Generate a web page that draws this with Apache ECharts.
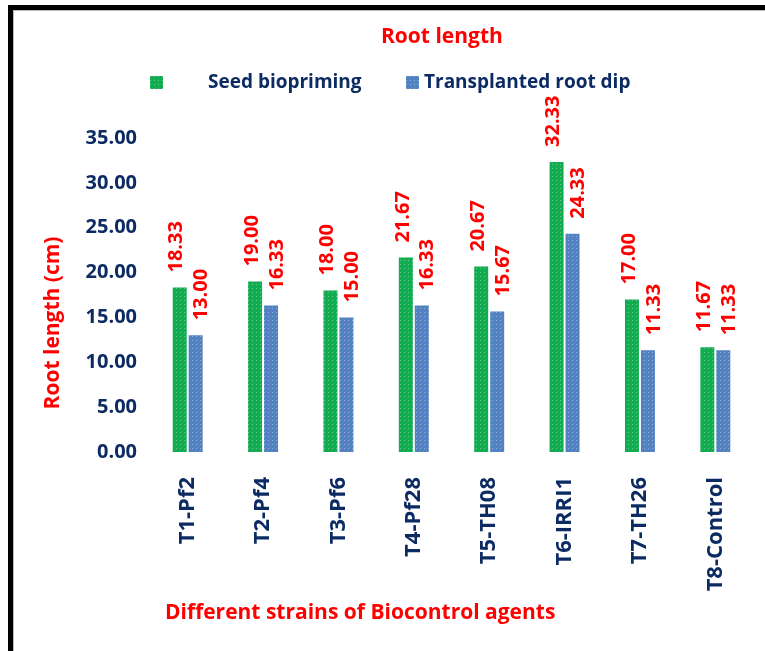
<!DOCTYPE html>
<html>
<head>
<meta charset="utf-8">
<script src="https://cdn.jsdelivr.net/npm/echarts@6/dist/echarts.min.js"></script>
<style>
html,body{margin:0;padding:0;background:#fff;}
#chart{position:absolute;left:0;top:0;width:765px;height:651px;}
#frame{position:absolute;left:8px;top:5px;width:800px;height:700px;border-left:5px solid #000;border-top:5px solid #000;pointer-events:none;box-sizing:border-box;}
#frame2{position:absolute;left:13px;top:10px;width:800px;height:700px;border-left:1px solid #bbb;border-top:1px solid #bbb;pointer-events:none;}
</style>
</head>
<body>
<div id="chart"></div>
<div id="frame"></div>
<div id="frame2"></div>
<script>
const categories = ['T1-Pf2','T2-Pf4','T3-Pf6','T4-Pf28','T5-TH08','T6-IRRI1','T7-TH26','T8-Control'];
const seedBiopriming = [18.33, 19.00, 18.00, 21.67, 20.67, 32.33, 17.00, 11.67];
const rootDip = [13.00, 16.33, 15.00, 16.33, 15.67, 24.33, 11.33, 11.33];
const seriesNames = ['Seed biopriming', 'Transplanted root dip'];
const titleText = 'Root length';
const yAxisTitle = 'Root length (cm)';
const xAxisTitle = 'Different strains of Biocontrol agents';

const FONT = '"Open Sans", sans-serif';
const NAVY = '#0d2b63';
const RED = '#ff0000';
const GREEN = '#12ad50';
const BLUE = '#5282c2';

const decal = {
  symbol: 'rect',
  symbolSize: 1,
  dashArrayX: [[1, 3]],
  dashArrayY: [1, 3],
  color: 'rgba(255,255,255,0.35)'
};

const labelCommon = {
  show: true,
  position: 'top',
  rotate: 90,
  align: 'left',
  verticalAlign: 'middle',
  distance: 15,
  color: RED,
  fontFamily: FONT,
  fontWeight: 'bold',
  fontSize: 20,
  formatter: p => p.value.toFixed(2)
};

const chart = echarts.init(document.getElementById('chart'));
chart.setOption({
  animation: false,
  backgroundColor: '#fff',
  title: [
    { text: titleText, left: 381, top: 27, padding: 0,
      textStyle: { color: RED, fontFamily: FONT, fontWeight: 'bold', fontSize: 21 } },
    { text: xAxisTitle, left: 165, top: 603, padding: 0,
      textStyle: { color: RED, fontFamily: FONT, fontWeight: 'bold', fontSize: 21 } }
  ],
  legend: [
    { data: [seriesNames[0]], left: 150, top: 73, padding: 0, icon: 'rect',
      itemWidth: 13, itemHeight: 13,
      textStyle: { color: NAVY, fontFamily: FONT, fontWeight: 'bold', fontSize: 19, padding: [0, 0, 0, 40] } },
    { data: [seriesNames[1]], left: 406, top: 73, padding: 0, icon: 'rect',
      itemWidth: 13, itemHeight: 13,
      textStyle: { color: NAVY, fontFamily: FONT, fontWeight: 'bold', fontSize: 19, padding: [0, 0, 0, 0] } }
  ],
  graphic: [
    { type: 'text', x: 53, y: 323, rotation: Math.PI / 2,
      style: { text: yAxisTitle, fill: RED, font: 'bold 21px "Open Sans", sans-serif',
        align: 'center', verticalAlign: 'middle' } }
  ],
  grid: { left: 150, right: 12, top: 138, bottom: 199, containLabel: false },
  xAxis: {
    type: 'category',
    data: categories,
    axisLine: { show: false },
    axisTick: { show: false },
    axisLabel: { rotate: 90, margin: 25, color: NAVY, fontFamily: FONT, fontWeight: 'bold', fontSize: 22, interval: 0 }
  },
  yAxis: {
    type: 'value',
    min: 0, max: 35, interval: 5,
    axisLine: { show: false },
    axisTick: { show: false },
    splitLine: { show: false },
    axisLabel: { margin: 13, color: NAVY, fontFamily: FONT, fontWeight: 'bold', fontSize: 20,
      formatter: v => v.toFixed(2) }
  },
  series: [
    { name: seriesNames[0], type: 'bar', data: seedBiopriming, barWidth: 14, barGap: '14%',
      itemStyle: { color: GREEN, decal: decal },
      label: Object.assign({}, labelCommon, { offset: [0, -3] }) },
    { name: seriesNames[1], type: 'bar', data: rootDip, barWidth: 14, barGap: '14%',
      itemStyle: { color: BLUE, decal: decal },
      label: Object.assign({}, labelCommon, { offset: [0, 6] }) }
  ]
});
</script>
</body>
</html>
